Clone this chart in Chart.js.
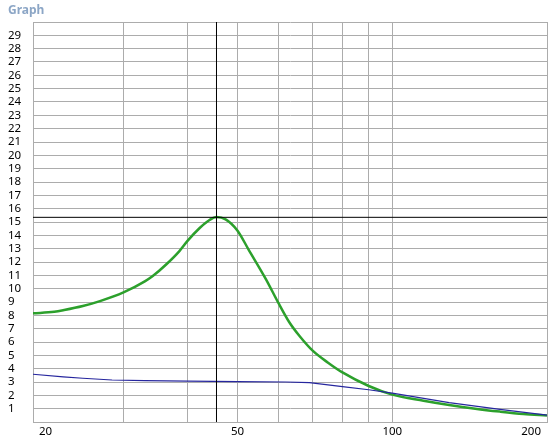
<!DOCTYPE html>
<html>
<head>
<meta charset="utf-8">
<script src="https://cdn.jsdelivr.net/npm/chart.js@4/dist/chart.umd.min.js"></script>
<style>
  html, body { margin: 0; padding: 0; background: #fff; }
  #wrap { width: 551px; height: 442px; }
</style>
</head>
<body>
<div id="wrap"><canvas id="myChart" width="551" height="442"></canvas></div>
<script>
'use strict';
// green curve
let greenFreq = [20, 22, 23, 25, 27, 30, 33, 34.2, 36.4, 38.5, 40, 42.2, 44.1, 45.5, 47.4, 50, 52.5, 56.8, 60, 63, 66, 70, 75, 80, 90, 100, 115, 129, 145, 162, 180, 200];
let greenVal = [8.15, 8.27, 8.4, 8.7, 9.07, 9.72, 10.55, 10.95, 11.85, 12.8, 13.6, 14.55, 15.15, 15.38, 15.2, 14.35, 12.95, 10.7, 8.95, 7.5, 6.45, 5.35, 4.45, 3.72, 2.7, 2.05, 1.6, 1.28, 1.0, 0.78, 0.6, 0.48];
// blue line
let blueFreq = [20, 22.9, 25, 28.5, 33, 40, 50, 62, 69, 80, 90, 100, 129, 162, 200];
let blueVal = [3.58, 3.38, 3.28, 3.15, 3.1, 3.07, 3.03, 3.0, 2.95, 2.65, 2.42, 2.17, 1.45, 0.95, 0.52];
// cursor
let cursorFreq = 45.5;
let cursorVal = 15.35;
// axes
let xGridTicks = [20, 30, 40, 50, 60, 70, 80, 90, 100, 200];
let xLabelTicks = [20, 50, 100, 200];
let yMin = 0;
let yMax = 30;

function toPoints(xs, ys) {
    let pts = [];
    for (let i = 0; i < xs.length; i++) {
        pts.push({ x: xs[i], y: ys[i] });
    }
    return pts;
}

let fontFamily = "'Segoe UI', 'Noto Sans', sans-serif";
let gridColor = '#acacac';

let ctx = document.getElementById('myChart').getContext('2d');
let myChart = new Chart(ctx, {
    type: 'line',
    data: {
        datasets: [{
            data: [{ x: cursorFreq, y: yMin }, { x: cursorFreq, y: yMax }],
            borderColor: '#000',
            borderWidth: 1,
            pointRadius: 0
        },
        {
            data: [{ x: xGridTicks[0], y: cursorVal }, { x: xGridTicks[xGridTicks.length - 1], y: cursorVal }],
            borderColor: '#000',
            borderWidth: 1,
            pointRadius: 0
        },
        {
            data: toPoints(blueFreq, blueVal),
            borderColor: '#26269e',
            borderWidth: 1.2,
            pointRadius: 0,
            tension: 0
        },
        {
            data: toPoints(greenFreq, greenVal),
            borderColor: '#2ca02c',
            borderWidth: 2.5,
            pointRadius: 0,
            cubicInterpolationMode: 'monotone'
        }]
    },
    options: {
        responsive: false,
        animation: false,
        layout: {
            padding: { left: 8, right: 4, top: 0, bottom: 0 }
        },
        plugins: {
            legend: { display: false },
            tooltip: { enabled: false },
            title: {
                display: true,
                text: 'Graph',
                align: 'start',
                color: '#8ca6c6',
                font: { family: fontFamily, size: 12, weight: 'bold' },
                padding: { top: 3, bottom: 4.6 }
            }
        },
        scales: {
            x: {
                type: 'logarithmic',
                min: xGridTicks[0],
                max: xGridTicks[xGridTicks.length - 1],
                afterBuildTicks: function (axis) {
                    axis.ticks = xGridTicks.map(v => ({ value: v }));
                },
                afterFit: function (axis) {
                    axis.height = 20;
                },
                grid: { color: gridColor, drawTicks: false },
                border: { color: gridColor },
                ticks: {
                    autoSkip: false,
                    maxRotation: 0,
                    align: 'inner',
                    padding: 3,
                    color: '#000',
                    font: { family: fontFamily, size: 11.5 },
                    callback: function (value) {
                        if (value === 20) return '  20';
                        if (value === 200) return '200  ';
                        return xLabelTicks.includes(value) ? String(value) : '';
                    }
                }
            },
            y: {
                min: yMin,
                max: yMax,
                afterFit: function (axis) {
                    axis.width = 25;
                },
                grid: { color: gridColor, drawTicks: false },
                border: { color: gridColor },
                ticks: {
                    stepSize: 1,
                    autoSkip: false,
                    crossAlign: 'far',
                    color: '#000',
                    font: { family: fontFamily, size: 11.5 },
                    callback: function (value) {
                        return (value === yMin || value === yMax) ? '' : String(value);
                    }
                }
            }
        }
    }
});
</script>
</body>
</html>
